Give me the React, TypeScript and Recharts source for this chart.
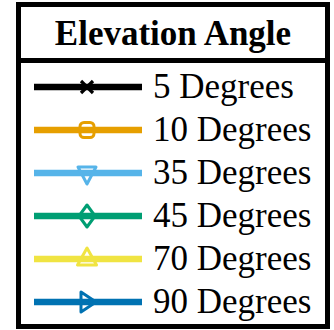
import React from 'react';
import { LineChart, Line, Legend } from 'recharts';

const angles = [5, 10, 35, 45, 70, 90];
const seriesNames = angles.map((a) => `${a} Degrees`);
const colors = ['#000000', '#E69F00', '#56B4E9', '#009E73', '#F0E442', '#0072B2'];
const markers = ['cross', 'square', 'triangleDown', 'diamond', 'triangleUp', 'triangleRight'];
const legendTitle = 'Elevation Angle';

const data: Record<string, number | null>[] = [];

const FONT = "'Liberation Serif', 'Times New Roman', Times, serif";

function Marker({ type, cx, cy, color }: { type: string; cx: number; cy: number; color: string }) {
  const sw = 3;
  switch (type) {
    case 'cross':
      return (
        <g stroke={color} strokeWidth={3.2} fill="none">
          <line x1={cx - 6} y1={cy - 6} x2={cx + 6} y2={cy + 6} />
          <line x1={cx - 6} y1={cy + 6} x2={cx + 6} y2={cy - 6} />
        </g>
      );
    case 'square':
      return <rect x={cx - 7} y={cy - 7.5} width={14} height={15} rx={4} fill="none" stroke={color} strokeWidth={sw} />;
    case 'triangleDown':
      return (
        <path d={`M${cx - 9},${cy - 6} L${cx + 9},${cy - 6} L${cx},${cy + 11} Z`} fill="none" stroke={color} strokeWidth={sw} strokeLinejoin="round" />
      );
    case 'diamond':
      return (
        <path d={`M${cx},${cy - 11} L${cx + 8},${cy} L${cx},${cy + 11} L${cx - 8},${cy} Z`} fill="none" stroke={color} strokeWidth={sw} strokeLinejoin="round" />
      );
    case 'triangleUp':
      return (
        <path d={`M${cx - 9.5},${cy + 6} L${cx + 9.5},${cy + 6} L${cx},${cy - 11} Z`} fill="none" stroke={color} strokeWidth={sw} strokeLinejoin="round" />
      );
    case 'triangleRight':
      return (
        <path d={`M${cx - 6},${cy - 10} L${cx - 6},${cy + 10} L${cx + 9},${cy} Z`} fill="none" stroke={color} strokeWidth={sw} strokeLinejoin="round" />
      );
    default:
      return null;
  }
}

function LegendBox(props: any) {
  const payload = props.payload || [];
  return (
    <svg width={334} height={330} style={{ display: 'block' }}>
      <rect x={18.5} y={4.5} width={309} height={322} fill="#fff" stroke="#000" strokeWidth={5} />
      <line x1={16} y1={60.5} x2={330} y2={60.5} stroke="#000" strokeWidth={5} />
      <text x={173} y={45} textAnchor="middle" fontFamily={FONT} fontWeight={700} fontSize={35} fill="#000">
        {legendTitle}
      </text>
      {payload.map((entry: any, i: number) => {
        const idx = seriesNames.indexOf(entry.value);
        const k = idx >= 0 ? idx : i;
        const lineY = 87 + 43 * k;
        const baseY = 98 + 43 * k;
        const color = entry.color || colors[k];
        return (
          <g key={entry.value}>
            <line x1={34} y1={lineY} x2={142} y2={lineY} stroke={color} strokeWidth={6.5} />
            <Marker type={markers[k]} cx={87} cy={lineY} color={color} />
            <text x={153} y={baseY} fontFamily={FONT} fontSize={35} fill="#000">
              {entry.value}
            </text>
          </g>
        );
      })}
    </svg>
  );
}

export default function App() {
  return (
    <div style={{ position: 'absolute', left: 0, top: 0, width: 334, height: 330, background: '#fff' }}>
      <LineChart width={334} height={330} data={data} margin={{ top: 0, right: 0, bottom: 0, left: 0 }}>
        {angles.map((a, i) => (
          <Line
            key={a}
            type="linear"
            dataKey={`a${a}`}
            name={seriesNames[i]}
            stroke={colors[i]}
            strokeWidth={6.5}
            dot={false}
            isAnimationActive={false}
          />
        ))}
        <Legend
          layout="vertical"
          align="left"
          verticalAlign="top"
          content={<LegendBox />}
          wrapperStyle={{ left: 0, top: 0, width: 334, height: 330, margin: 0, padding: 0 }}
        />
      </LineChart>
    </div>
  );
}
